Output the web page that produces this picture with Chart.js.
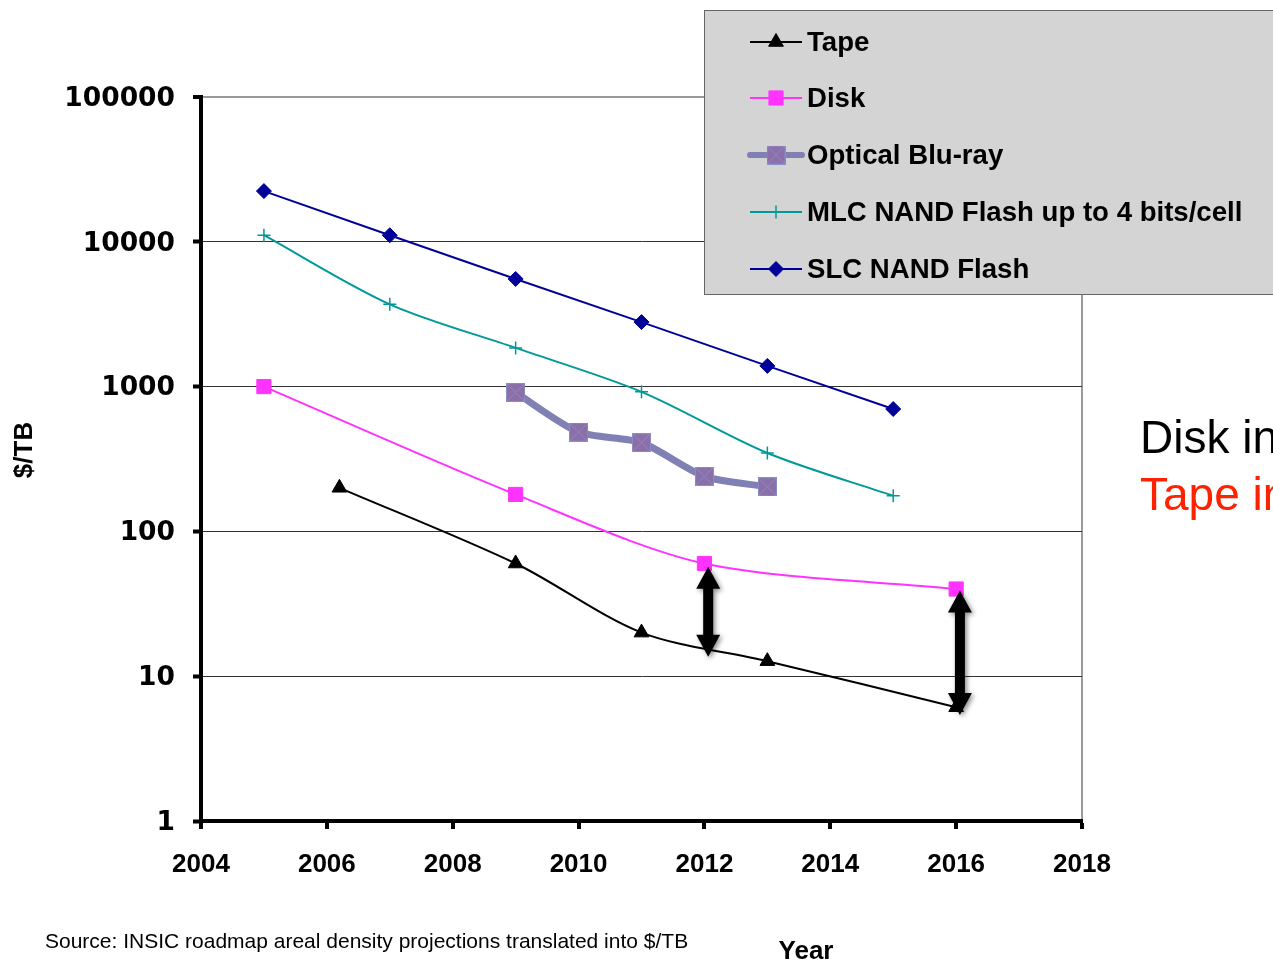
<!DOCTYPE html>
<html>
<head>
<meta charset="utf-8">
<script src="https://cdn.jsdelivr.net/npm/chart.js@4.4.0/dist/chart.umd.min.js"></script>
<style>
  body { margin: 0; background: #fff; }
  #wrap { width: 1273px; height: 965px; position: relative; overflow: hidden; }
</style>
</head>
<body>
<div id="wrap"><canvas id="costChart" width="1273" height="965"></canvas></div>
<script>
// values ($/TB, log scale)
var tapeYears = [2006.2, 2009, 2011, 2013, 2016];
var tapeCost = [200, 60, 20, 12.7, 6.1];
var diskYears = [2005, 2009, 2012, 2016];
var diskCost = [1000, 180, 60, 40];
var opticalYears = [2009, 2010, 2011, 2012, 2013];
var opticalCost = [910, 485, 410, 240, 203];
var mlcYears = [2005, 2007, 2009, 2011, 2013, 2015];
var mlcCost = [11100, 3700, 1850, 920, 348, 176];
var slcYears = [2005, 2007, 2009, 2011, 2013, 2015];
var slcCost = [22400, 11100, 5540, 2790, 1390, 700];

var yearTicks = [2004, 2006, 2008, 2010, 2012, 2014, 2016, 2018];
var costTicks = [1, 10, 100, 1000, 10000, 100000];

// the two double arrows showing the disk/tape gap
var arrowYears = [2012.06, 2016.06];
var arrowTop = [57, 39];
var arrowBottom = [13.6, 5.4];

function pairs(xs, ys) {
    return xs.map(function (x, i) { return { x: x, y: ys[i] }; });
}

// square with an X, used for the Blu-ray markers
function makeOpticalMarker() {
    var c = document.createElement('canvas');
    c.width = 19; c.height = 19;
    var g = c.getContext('2d');
    g.fillStyle = '#8b6fa8';
    g.fillRect(0, 0, 19, 19);
    g.strokeStyle = '#8c8cc4';
    g.lineWidth = 1;
    g.strokeRect(0.5, 0.5, 18, 18);
    g.beginPath();
    g.moveTo(1, 1); g.lineTo(18, 18);
    g.moveTo(18, 1); g.lineTo(1, 18);
    g.stroke();
    return c;
}
var opticalMarker = makeOpticalMarker();

var seriesInfo = [
    { label: 'Tape', color: '#000000', width: 2, style: 'triangle', radius: 8.5, fill: '#000000', legendWidth: 2 },
    { label: 'Disk', color: '#ff33ff', width: 2, style: 'rect', radius: 10, fill: '#ff33ff', legendWidth: 2 },
    { label: 'Optical Blu-ray', color: '#8080b4', width: 7, style: opticalMarker, radius: 10, fill: '#8b6fa8', legendWidth: 6 },
    { label: 'MLC NAND Flash up to 4 bits/cell', color: '#009999', width: 2, style: 'cross', radius: 6.5, fill: '#009999', legendWidth: 2 },
    { label: 'SLC NAND Flash', color: '#000099', width: 2, style: 'rectRot', radius: 7.5, fill: '#000099', legendWidth: 2 }
];

var seriesData = [
    pairs(tapeYears, tapeCost),
    pairs(diskYears, diskCost),
    pairs(opticalYears, opticalCost),
    pairs(mlcYears, mlcCost),
    pairs(slcYears, slcCost)
];

var tensions = [0.3, 0.3, 0.25, 0.3, 0];

var datasets = seriesInfo.map(function (s, i) {
    return {
        label: s.label,
        data: seriesData[i],
        borderColor: s.color,
        borderWidth: s.width,
        backgroundColor: s.fill,
        pointStyle: s.style,
        pointRadius: s.radius,
        pointBorderColor: s.style === 'cross' ? s.color : s.fill,
        pointBorderWidth: s.style === 'cross' ? 1.5 : 1,
        pointBackgroundColor: s.fill,
        tension: tensions[i],
        fill: false
    };
});

function drawDoubleArrow(ctx, x, yTop, yBot) {
    var headW = 12, headH = 22, shaft = 5;
    ctx.save();
    ctx.shadowColor = 'rgba(0,0,0,0.45)';
    ctx.shadowBlur = 5;
    ctx.shadowOffsetX = 2;
    ctx.shadowOffsetY = 2;
    ctx.fillStyle = '#000';
    ctx.beginPath();
    ctx.moveTo(x, yTop);
    ctx.lineTo(x + headW, yTop + headH);
    ctx.lineTo(x + shaft, yTop + headH);
    ctx.lineTo(x + shaft, yBot - headH);
    ctx.lineTo(x + headW, yBot - headH);
    ctx.lineTo(x, yBot);
    ctx.lineTo(x - headW, yBot - headH);
    ctx.lineTo(x - shaft, yBot - headH);
    ctx.lineTo(x - shaft, yTop + headH);
    ctx.lineTo(x - headW, yTop + headH);
    ctx.closePath();
    ctx.fill();
    ctx.restore();
}

var extras = {
    id: 'extras',
    afterDraw: function (chart) {
        var ctx = chart.ctx;
        var xs = chart.scales.x, ys = chart.scales.y;

        // gap arrows
        arrowYears.forEach(function (yr, i) {
            drawDoubleArrow(ctx, xs.getPixelForValue(yr), ys.getPixelForValue(arrowTop[i]), ys.getPixelForValue(arrowBottom[i]));
        });

        // legend box
        ctx.save();
        ctx.fillStyle = '#d4d4d4';
        ctx.fillRect(704.5, 10.5, 580, 284);
        ctx.strokeStyle = '#666';
        ctx.lineWidth = 1;
        ctx.strokeRect(704.5, 10.5, 580, 284);
        var rowY = [42, 98, 155, 212, 269];
        seriesInfo.forEach(function (s, i) {
            var y = rowY[i];
            ctx.strokeStyle = s.color;
            ctx.lineWidth = s.legendWidth;
            ctx.lineCap = s.legendWidth > 3 ? 'round' : 'butt';
            ctx.beginPath();
            ctx.moveTo(750, y);
            ctx.lineTo(802, y);
            ctx.stroke();
            ctx.fillStyle = s.fill;
            ctx.strokeStyle = s.style === 'cross' ? s.color : s.fill;
            ctx.lineWidth = s.style === 'cross' ? 1.5 : 1;
            Chart.helpers.drawPoint(ctx, { pointStyle: s.style, radius: s.radius, borderWidth: 1, rotation: 0 }, 776, y);
            ctx.fillStyle = '#000';
            ctx.font = 'bold 27.6px "Liberation Sans", Arial, sans-serif';
            ctx.textAlign = 'left';
            ctx.textBaseline = 'middle';
            ctx.fillText(s.label, 807, y + 1);
        });
        ctx.restore();

        // side notes, cut off by the page edge like the reference
        ctx.save();
        ctx.font = '46px "Liberation Sans", Arial, sans-serif';
        ctx.textAlign = 'left';
        ctx.textBaseline = 'middle';
        ctx.fillStyle = '#000';
        ctx.fillText('Disk in', 1140, 440);
        ctx.fillStyle = '#ff2200';
        ctx.fillText('Tape in', 1140, 497);
        ctx.restore();

        // axis titles and source line
        ctx.save();
        ctx.fillStyle = '#000';
        ctx.textBaseline = 'middle';
        ctx.textAlign = 'center';
        ctx.font = 'bold 26px "Liberation Sans", Arial, sans-serif';
        ctx.fillText('Year', 806, 952);
        ctx.translate(25, 450);
        ctx.rotate(-Math.PI / 2);
        ctx.font = 'bold 26px "Liberation Sans", Arial, sans-serif';
        ctx.fillText('$/TB', 0, 0);
        ctx.restore();

        ctx.save();
        ctx.fillStyle = '#000';
        ctx.font = '21px "Liberation Sans", Arial, sans-serif';
        ctx.textAlign = 'left';
        ctx.textBaseline = 'middle';
        ctx.fillText('Source: INSIC roadmap areal density projections translated into $/TB', 45, 942);
        ctx.restore();
    }
};

var ctx = document.getElementById('costChart').getContext('2d');
var costChart = new Chart(ctx, {
    type: 'line',
    data: { datasets: datasets },
    plugins: [extras],
    options: {
        responsive: false,
        animation: false,
        layout: { padding: { top: 97, right: 191, left: 0, bottom: 0 } },
        plugins: {
            legend: { display: false },
            tooltip: { enabled: false }
        },
        scales: {
            x: {
                type: 'linear',
                min: 2004,
                max: 2018,
                afterBuildTicks: function (s) { s.ticks = yearTicks.map(function (v) { return { value: v }; }); },
                afterFit: function (s) { s.height = 144; },
                ticks: {
                    callback: function (v) { return String(v); },
                    color: '#000',
                    padding: 20,
                    maxRotation: 0,
                    font: { family: '"Liberation Sans", Arial, sans-serif', size: 26, weight: 'bold' }
                },
                grid: {
                    color: function (c) { return c.tick && c.tick.value === 2018 ? '#999' : 'rgba(0,0,0,0)'; },
                    lineWidth: 2,
                    tickColor: '#000',
                    tickWidth: 4,
                    tickLength: 8
                },
                border: { display: true, color: '#000', width: 4 }
            },
            y: {
                type: 'logarithmic',
                min: 1,
                max: 100000,
                afterBuildTicks: function (s) { s.ticks = costTicks.map(function (v) { return { value: v }; }); },
                afterFit: function (s) { s.width = 201; },
                ticks: {
                    callback: function (v) { return String(v); },
                    color: '#000',
                    padding: 18,
                    labelOffset: 2,
                    font: { family: '"DejaVu Sans", Verdana, sans-serif', size: 26.5, weight: 'bold' }
                },
                grid: {
                    color: function (c) { return c.tick && c.tick.value === 100000 ? '#999' : '#333'; },
                    lineWidth: function (c) { return c.tick && c.tick.value === 100000 ? 2 : 1; },
                    tickColor: '#000',
                    tickWidth: 4,
                    tickLength: 8
                },
                border: { display: true, color: '#000', width: 4 }
            }
        }
    }
});
</script>
</body>
</html>
